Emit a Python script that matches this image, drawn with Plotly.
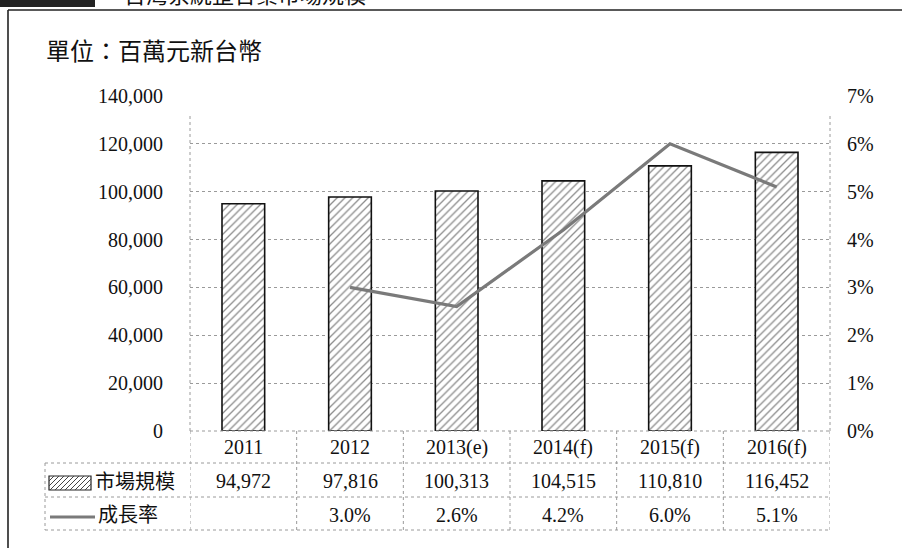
import plotly.graph_objects as go

# ---- data ----
years = ["2011", "2012", "2013(e)", "2014(f)", "2015(f)", "2016(f)"]
market_size = [94972, 97816, 100313, 104515, 110810, 116452]
growth_rate = [None, 3.0, 2.6, 4.2, 6.0, 5.1]
left_ticks = [0, 20000, 40000, 60000, 80000, 100000, 120000, 140000]
right_ticks = [0, 1, 2, 3, 4, 5, 6, 7]
series_names = ["市場規模", "成長率"]
unit_text = "單位：百萬元新台幣"
caption_text = "台灣系統整合業市場規模"

W, H = 902, 548
ML, MR, MT, MB = 190, 72, 96, 117
PW, PH = W - ML - MR, H - MT - MB

def px(x):
    return (x - ML) / PW

def py(y):
    return (H - MB - y) / PH

SERIF = "Liberation Serif, Noto Sans CJK TC, serif"
GRID = "#9a9a9a"
LINEC = "#7a7a7a"

pos = list(range(len(years)))

fig = go.Figure()
fig.add_trace(go.Bar(
    x=pos, y=market_size, name=series_names[0], width=0.4,
    hovertext=years,
    marker=dict(color="white", line=dict(color="#111", width=1.6),
                pattern=dict(shape="/", fgcolor="#1a1a1a", bgcolor="white",
                             size=5.5, solidity=0.24)),
    showlegend=False, yaxis="y",
))
fig.add_trace(go.Scatter(
    x=pos, y=growth_rate, name=series_names[1], mode="lines",
    hovertext=years,
    line=dict(color=LINEC, width=3.2), yaxis="y2", showlegend=False,
    connectgaps=False,
))

shapes = []
line_style = dict(color=GRID, width=1, dash="dot")
# horizontal table lines
shapes.append(dict(type="line", xref="paper", yref="paper", x0=0, x1=1,
                   y0=py(431), y1=py(431), line=line_style))
for yy in (463, 497, 530):
    shapes.append(dict(type="line", xref="paper", yref="paper", x0=px(45), x1=1,
                       y0=py(yy), y1=py(yy), line=line_style))
# vertical table lines (category boundaries)
for i in range(len(years) + 1):
    shapes.append(dict(type="line", xref="x", yref="paper", x0=i - 0.5, x1=i - 0.5,
                       y0=py(431), y1=py(530), line=line_style))
shapes.append(dict(type="line", xref="paper", yref="paper", x0=px(45), x1=px(45),
                   y0=py(463), y1=py(530), line=line_style))
# plot side lines
for xx in (0, 1):
    shapes.append(dict(type="line", xref="paper", yref="paper", x0=xx, x1=xx,
                       y0=0, y1=py(115), line=line_style))
# outer frame
frame = dict(color="#222", width=1.6)
shapes.append(dict(type="line", xref="paper", yref="paper", x0=px(8), x1=px(902),
                   y0=py(10), y1=py(10), line=frame))
shapes.append(dict(type="line", xref="paper", yref="paper", x0=px(8), x1=px(8),
                   y0=py(10), y1=py(548), line=frame))
# caption block
shapes.append(dict(type="rect", xref="paper", yref="paper", x0=px(0), x1=px(95),
                   y0=py(-5), y1=py(7), line=dict(width=0), fillcolor="#222"))
# legend swatch: hatched rect
rx0, rx1, ry0, ry1 = 49, 91, 476, 490
shapes.append(dict(type="rect", xref="paper", yref="paper", x0=px(rx0), x1=px(rx1),
                   y0=py(ry0), y1=py(ry1), line=dict(color="#222", width=1.2),
                   fillcolor="white"))
path = ""
step = 5
h = ry1 - ry0
k = rx0 - h
while k < rx1:
    xa, ya = k, ry1
    xb, yb = k + h, ry0
    if xa < rx0:
        ya = ry1 - (rx0 - xa); xa = rx0
    if xb > rx1:
        yb = ry0 + (xb - rx1); xb = rx1
    if xb > xa:
        path += f"M{px(xa)},{py(ya)} L{px(xb)},{py(yb)} "
    k += step
shapes.append(dict(type="path", xref="paper", yref="paper", path=path,
                   line=dict(color="#444", width=1)))
# legend swatch: line
shapes.append(dict(type="line", xref="paper", yref="paper", x0=px(50), x1=px(95),
                   y0=py(517), y1=py(517), line=dict(color=LINEC, width=3)))

tf = dict(size=20, family=SERIF, color="#111")
annotations = []
for i, (yr, v, g) in enumerate(zip(years, market_size, growth_rate)):
    annotations.append(dict(x=i, xref="x", y=py(447), yref="paper", text=yr,
                            yanchor="middle", showarrow=False, font=tf))
    annotations.append(dict(x=i, xref="x", y=py(481), yref="paper", text=f"{v:,}",
                            yanchor="middle", showarrow=False, font=tf))
    if g is not None:
        annotations.append(dict(x=i, xref="x", y=py(515), yref="paper", text=f"{g:.1f}%",
                                yanchor="middle", showarrow=False, font=tf))
annotations.append(dict(x=px(93), xref="paper", y=py(482), yref="paper", text=series_names[0],
                        xanchor="left", yanchor="middle", showarrow=False, font=tf))
annotations.append(dict(x=px(96), xref="paper", y=py(515), yref="paper", text=series_names[1],
                        xanchor="left", yanchor="middle", showarrow=False, font=tf))
annotations.append(dict(x=px(44), xref="paper", y=py(52), yref="paper", text=unit_text,
                        xanchor="left", yanchor="middle", showarrow=False,
                        font=dict(size=24, family=SERIF, color="#111")))
annotations.append(dict(x=px(122), xref="paper", y=py(-5), yref="paper", text=caption_text,
                        xanchor="left", yanchor="middle", showarrow=False,
                        font=dict(size=22, family=SERIF, color="#111")))

fig.update_layout(
    width=W, height=H,
    margin=dict(l=ML, r=MR, t=MT, b=MB, autoexpand=False),
    paper_bgcolor="white", plot_bgcolor="white",
    font=dict(family=SERIF, color="#111", size=20),
    xaxis=dict(range=[-0.5, len(years) - 0.5], showticklabels=False,
               showgrid=False, zeroline=False, showline=False, ticks=""),
    yaxis=dict(range=[0, 140000], tickvals=left_ticks, tickformat=",",
               showgrid=True, gridcolor=GRID, griddash="dot", gridwidth=1,
               zeroline=False, showline=False, ticks="", ticklabelstandoff=26,
               tickfont=tf),
    yaxis2=dict(range=[0, 7], tickvals=right_ticks,
                ticktext=[f"{v}%" for v in right_ticks], overlaying="y",
                side="right", showgrid=False, zeroline=False, showline=False, ticks="",
                ticklabelstandoff=16, tickfont=tf),
    shapes=shapes, annotations=annotations, showlegend=False,
)

fig.write_html("out.html", config={"displayModeBar": False},
               post_script="document.body.style.margin='0';")
